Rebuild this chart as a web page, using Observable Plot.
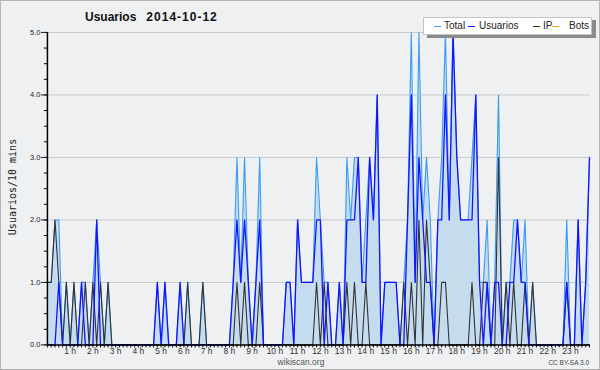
<!DOCTYPE html>
<html><head><meta charset="utf-8">
<script src="https://cdn.jsdelivr.net/npm/d3@7"></script>
<script src="https://cdn.jsdelivr.net/npm/@observablehq/plot@0.6"></script>
<style>
html,body{margin:0;padding:0;background:#eff0f1;}
#wrap{position:relative;width:600px;height:370px;overflow:hidden;font-family:"Liberation Sans",Arial,sans-serif;box-sizing:border-box;border:1px solid #b4b4b4;}
#chart{position:absolute;left:-1px;top:-1px;}
.abs{position:absolute;white-space:nowrap;}
#title{left:84px;top:9.5px;font-size:12px;line-height:12px;font-weight:bold;color:#111;}
#title .d{margin-left:10px;letter-spacing:1px;}
#ytitle{left:11px;top:186px;transform:translate(-50%,-50%) rotate(-90deg);font-family:"DejaVu Sans Mono",monospace;font-size:10px;color:#222;}
#legend{left:422px;top:16px;width:167px;height:16px;background:#fff;border:1px solid #c4c4c4;box-shadow:4px 3px 0 #8a8a8a;}
.lg{position:absolute;top:3px;font-size:10px;line-height:10px;color:#222;}
.ls{position:absolute;top:8px;height:1px;width:7px;}
#foot{left:0;width:600px;top:357px;text-align:center;font-size:8.5px;line-height:9px;color:#555;}
#cc{right:10px;top:358px;font-size:6.5px;line-height:7px;color:#444;}
</style></head><body>
<div id="wrap">
  <div id="chart"></div>
  <div class="abs" id="title">Usuarios<span class="d">2014-10-12</span></div>
  <div class="abs" id="ytitle">Usuarios/10 mins</div>
  <div class="abs" id="legend">
    <div class="ls" style="left:10px;background:#3b9cf5"></div><div class="lg" style="left:20px">Total</div>
    <div class="ls" style="left:44px;background:#1414ff"></div><div class="lg" style="left:55px">Usuarios</div>
    <div class="ls" style="left:109px;background:#333"></div><div class="lg" style="left:119px">IP</div>
    <div class="ls" style="left:128px;background:#ffa500"></div><div class="lg" style="left:145px">Bots</div>
  </div>
  <div class="abs" id="foot">wikiscan.org</div>
  <div class="abs" id="cc">CC BY-SA 3.0</div>
</div>
<script>
// 144 ten-minute intervals, 2014-10-12
const usuarios = [
 0,0,0,1,0,0,0,0,0,1,
 0,0,0,2,0,0,0,0,0,0,
 0,0,0,0,0,0,0,0,0,1,
 0,1,0,0,0,1,0,0,0,0,
 0,0,0,0,0,0,0,0,0,1,
 2,1,2,1,0,1,2,0,0,0,
 0,0,0,1,1,0,2,1,1,1,
 1,2,2,0,1,0,0,1,0,2,
 2,2,3,1,1,3,2,4,0,1,
 1,1,1,0,0,2,4,1,3,2,
 1,1,0,2,2,4,2,5,3,2,
 2,2,2,4,1,0,1,0,1,1,
 0,0,1,1,2,1,1,0,0,0,
 0,0,0,0,0,0,0,1,0,0,
 2,0,1,3];
const ip = [
 1,1,2,1,0,1,0,1,0,0,
 1,0,1,0,1,0,1,0,0,0,
 0,0,0,0,0,0,0,0,0,0,
 0,0,0,0,0,0,0,1,0,0,
 0,1,0,0,0,0,0,0,0,0,
 1,0,1,0,0,0,1,0,0,0,
 0,0,0,0,0,0,0,0,0,0,
 0,1,0,1,0,0,0,0,0,1,
 0,1,0,0,1,0,0,0,0,0,
 0,0,0,0,1,0,1,0,2,0,
 2,1,0,0,1,1,0,0,0,0,
 0,0,1,0,0,1,1,0,0,3,
 0,1,0,1,0,0,1,0,1,0,
 0,0,0,0,0,0,0,1,0,0,
 0,0,0,0];
const total = [
 1,1,2,2,0,1,0,1,0,1,
 1,0,1,2,1,0,1,0,0,0,
 0,0,0,0,0,0,0,0,0,1,
 0,1,0,0,0,1,0,1,0,0,
 0,1,0,0,0,0,0,0,0,1,
 3,1,3,1,0,1,3,0,0,0,
 0,0,0,1,1,0,2,1,1,1,
 1,3,2,1,1,0,0,1,0,3,
 2,3,3,1,2,3,2,4,0,1,
 1,1,1,0,1,2,5,1,5,2,
 3,2,0,2,3,5,2,5,3,2,
 2,2,3,4,1,1,2,0,1,4,
 0,1,1,2,2,1,2,0,1,0,
 0,0,0,0,0,0,0,2,0,0,
 2,0,1,3];
const hourLabels = ["1 h","2 h","3 h","4 h","5 h","6 h","7 h","8 h","9 h","10 h","11 h","12 h",
  "13 h","14 h","15 h","16 h","17 h","18 h","19 h","20 h","21 h","22 h","23 h"];
const yTicks = [0,1,2,3,4,5];

const rows = usuarios.map((u, i) => ({i, u, ip: ip[i], t: total[i]}));
const hourTicks = hourLabels.map((_, k) => (k + 1) * 6);
const minorX = rows.map(d => d.i);
const minorY = d3.range(0, 21).map(k => k / 4);

const chart = Plot.plot({
  width: 600, height: 370,
  marginTop: 32, marginBottom: 25, marginLeft: 47, marginRight: 10,
  style: {background: "transparent", fontFamily: "Liberation Sans, Arial, sans-serif", overflow: "visible"},
  x: {domain: [0, 143], axis: null, label: null},
  y: {domain: [0, 5], axis: null, label: null},
  marks: [
    Plot.gridY(yTicks.slice(1), {stroke: "#c9c9c9", strokeOpacity: 1}),
    Plot.areaY(rows, {x: "i", y: "t", fill: "#c5dcef"}),
    Plot.lineY(rows, {x: "i", y: "t", stroke: "#3b9cf5", strokeWidth: 1.1}),
    Plot.lineY(rows, {x: "i", y: "ip", stroke: "#333333", strokeWidth: 1.1}),
    Plot.lineY(rows, {x: "i", y: "u", stroke: "#1414ff", strokeWidth: 1.3}),
    Plot.axisY({ticks: minorY, tickSize: 3, tickFormat: () => "", color: "#000", label: null}),
    Plot.axisY({ticks: yTicks, tickSize: 6, tickPadding: 1, tickFormat: d3.format(".1f"), fontSize: 7.5, color: "#222", label: null}),
    Plot.axisX({ticks: minorX, tickSize: 3, tickFormat: () => "", color: "#000", label: null}),
    Plot.axisX({ticks: hourTicks, tickSize: 0, tickPadding: 3.5, tickFormat: d => hourLabels[d / 6 - 1], fontSize: 8.5, color: "#333", label: null}),
    Plot.ruleX([0], {stroke: "#000", strokeWidth: 1.5}),
    Plot.ruleY([0], {stroke: "#000", strokeWidth: 1.5})
  ]
});
document.getElementById("chart").appendChild(chart);
</script>
</body></html>
